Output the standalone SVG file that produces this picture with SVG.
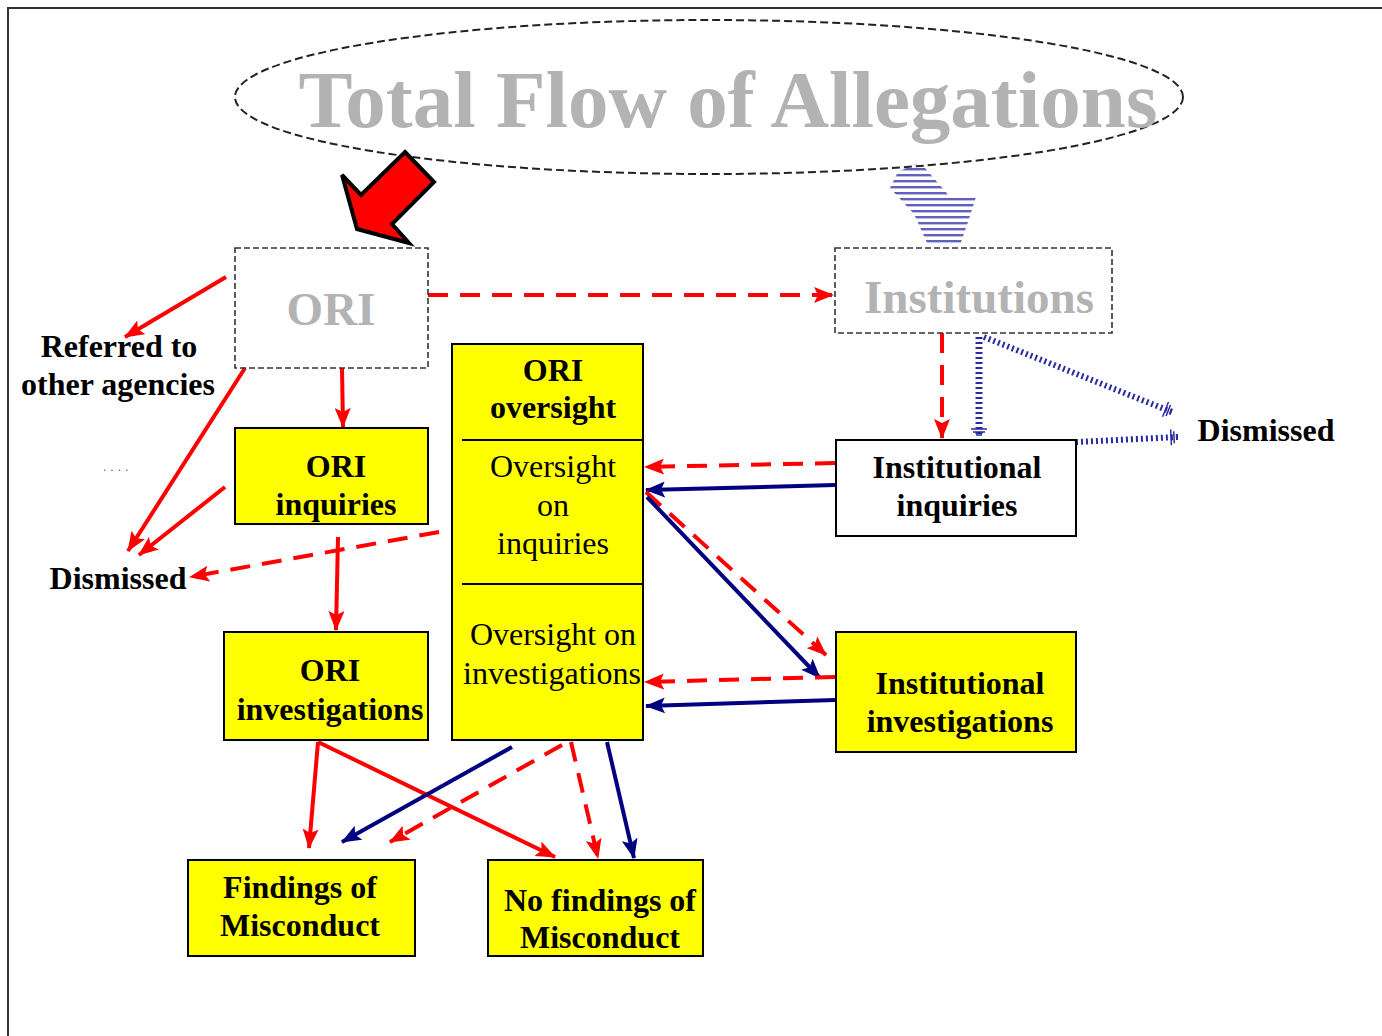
<svg xmlns="http://www.w3.org/2000/svg" width="1382" height="1036" viewBox="0 0 1382 1036">
<defs>
<style>
.box{fill:#ffff00;stroke:#000;stroke-width:2}
.wbox{fill:#fff;stroke:#000;stroke-width:2}
.dbox{fill:none;stroke:#333;stroke-width:1.6;stroke-dasharray:6 3}
.t{font-family:"Liberation Serif","Times New Roman",serif;font-size:32px;font-weight:bold;fill:#000;text-anchor:middle}
.n{font-weight:normal}
.g{fill:#b3b3b3}
.r{stroke:#ff0000;stroke-width:4;fill:none}
.rd{stroke-dasharray:20 12}
.b{stroke:#000080;stroke-width:4;fill:none}
.h{stroke:#2a2aa0;stroke-dasharray:2 3;fill:none}
</style>
<marker id="arR" viewBox="0 0 20 16" refX="19" refY="8" markerWidth="20" markerHeight="16" markerUnits="userSpaceOnUse" orient="auto"><path d="M0,0 L20,8 L0,16 L4,8 z" fill="#ff0000"/></marker>
<marker id="arB" viewBox="0 0 20 16" refX="19" refY="8" markerWidth="20" markerHeight="16" markerUnits="userSpaceOnUse" orient="auto"><path d="M0,0 L20,8 L0,16 L4,8 z" fill="#000080"/></marker>
<marker id="arH" viewBox="0 0 10 18" refX="8" refY="9" markerWidth="10" markerHeight="18" markerUnits="userSpaceOnUse" orient="auto"><path d="M1,1 V17 M4,3 V15 M7,6 V12" stroke="#2a2aa0" stroke-width="1.5" fill="none"/></marker>
<pattern id="hs" patternUnits="userSpaceOnUse" width="10" height="6"><rect x="0" y="0" width="10" height="2.4" fill="#2a2aa8" opacity="0.75"/></pattern>
</defs>
<rect width="1382" height="1036" fill="#fff"/>
<path d="M8,1036 V8 H1382" fill="none" stroke="#333" stroke-width="2"/>

<g id="title">
<ellipse cx="709" cy="97" rx="474" ry="77" fill="none" stroke="#222" stroke-width="2" stroke-dasharray="8 4"/>
<text class="t g" x="728" y="127" style="font-size:81px">Total Flow of Allegations</text>
</g>

<g id="big-arrows">
<polygon points="405,152 434,182 392,224 409,243 357,229 342,175 361,195" fill="#ff0000" stroke="#000" stroke-width="4" stroke-linejoin="miter"/>
<polygon points="915,164 925,168 950,197 976,197 968,222 960,245 928,245 914,214 890,188 898,172" fill="url(#hs)"/>
</g>

<g id="connectors">
<path class="r" d="M226,277 L125,337" marker-end="url(#arR)"/>
<path class="r" d="M245,368 L128,551" marker-end="url(#arR)"/>
<path class="r" d="M225,487 L139,555" marker-end="url(#arR)"/>
<path class="r" d="M342,368 L343,427" marker-end="url(#arR)"/>
<path class="r" d="M338,537 L336,630" marker-end="url(#arR)"/>
<path class="r rd" d="M439,532 L190,577" marker-end="url(#arR)"/>
<path class="r rd" d="M428,295 L833,295" marker-end="url(#arR)"/>
<path class="r rd" d="M942,333 L942,438" marker-end="url(#arR)"/>
<path class="r rd" d="M835,463 L645,467" marker-end="url(#arR)"/>
<path class="b" d="M835,485 L646,490" marker-end="url(#arB)"/>
<path class="r rd" d="M646,492 L826,655" marker-end="url(#arR)"/>
<path class="b" d="M647,497 L820,678" marker-end="url(#arB)"/>
<path class="r rd" d="M835,677 L645,682" marker-end="url(#arR)"/>
<path class="b" d="M835,700 L646,706" marker-end="url(#arB)"/>
<path class="r" d="M318,742 L309,848" marker-end="url(#arR)"/>
<path class="r" d="M318,742 L555,857" marker-end="url(#arR)"/>
<path class="b" d="M512,747 L342,842" marker-end="url(#arB)"/>
<path class="r rd" d="M562,745 L390,842" marker-end="url(#arR)"/>
<path class="r rd" d="M571,742 L598,858" marker-end="url(#arR)"/>
<path class="b" d="M607,742 L634,858" marker-end="url(#arB)"/>
<path class="h" d="M979,337 L979,436" stroke-width="7" marker-end="url(#arH)"/>
<path class="h" d="M984,337 L1172,412" stroke-width="6" marker-end="url(#arH)"/>
<path class="h" d="M1076,442 L1178,437" stroke-width="6" marker-end="url(#arH)"/>
</g>

<g id="ori">
<rect class="dbox" x="235" y="248" width="193" height="120"/>
<text class="t g" x="331" y="325" style="font-size:47px">ORI</text>
</g>
<g id="institutions">
<rect class="dbox" x="835" y="248" width="277" height="85"/>
<text class="t g" x="979" y="313" style="font-size:47px">Institutions</text>
</g>
<g id="referred">
<text class="t" x="119" y="357">Referred to</text>
<text class="t" x="118" y="395">other agencies</text>
</g>
<g id="dots"><text x="103" y="471" style="font-family:'Liberation Sans',sans-serif;font-size:12px;fill:#555;letter-spacing:4px">....</text></g>
<g id="dismissed-left"><text class="t" x="118" y="589">Dismissed</text></g>
<g id="dismissed-right"><text class="t" x="1266" y="441">Dismissed</text></g>

<g id="ori-inquiries">
<rect class="box" x="235" y="428" width="193" height="96"/>
<text class="t" x="336" y="477">ORI</text>
<text class="t" x="336" y="515">inquiries</text>
</g>
<g id="ori-oversight">
<rect class="box" x="452" y="344" width="191" height="396"/>
<path d="M462,440 H643 M462,584 H643" stroke="#000" stroke-width="2"/>
<text class="t" x="553" y="381">ORI</text>
<text class="t" x="553" y="418">oversight</text>
<text class="t n" x="553" y="477">Oversight</text>
<text class="t n" x="553" y="516">on</text>
<text class="t n" x="553" y="554">inquiries</text>
<text class="t n" x="553" y="645">Oversight on</text>
<text class="t n" x="552" y="684">investigations</text>
</g>
<g id="inst-inquiries">
<rect class="wbox" x="836" y="440" width="240" height="96"/>
<text class="t" x="957" y="478">Institutional</text>
<text class="t" x="957" y="516">inquiries</text>
</g>
<g id="ori-investigations">
<rect class="box" x="224" y="632" width="204" height="108"/>
<text class="t" x="330" y="681">ORI</text>
<text class="t" x="330" y="720">investigations</text>
</g>
<g id="inst-investigations">
<rect class="box" x="836" y="632" width="240" height="120"/>
<text class="t" x="960" y="694">Institutional</text>
<text class="t" x="960" y="732">investigations</text>
</g>
<g id="findings">
<rect class="box" x="188" y="860" width="227" height="96"/>
<text class="t" x="300" y="898">Findings of</text>
<text class="t" x="300" y="936">Misconduct</text>
</g>
<g id="no-findings">
<rect class="box" x="488" y="860" width="215" height="96"/>
<text class="t" x="600" y="911">No findings of</text>
<text class="t" x="600" y="948">Misconduct</text>
</g>
</svg>
